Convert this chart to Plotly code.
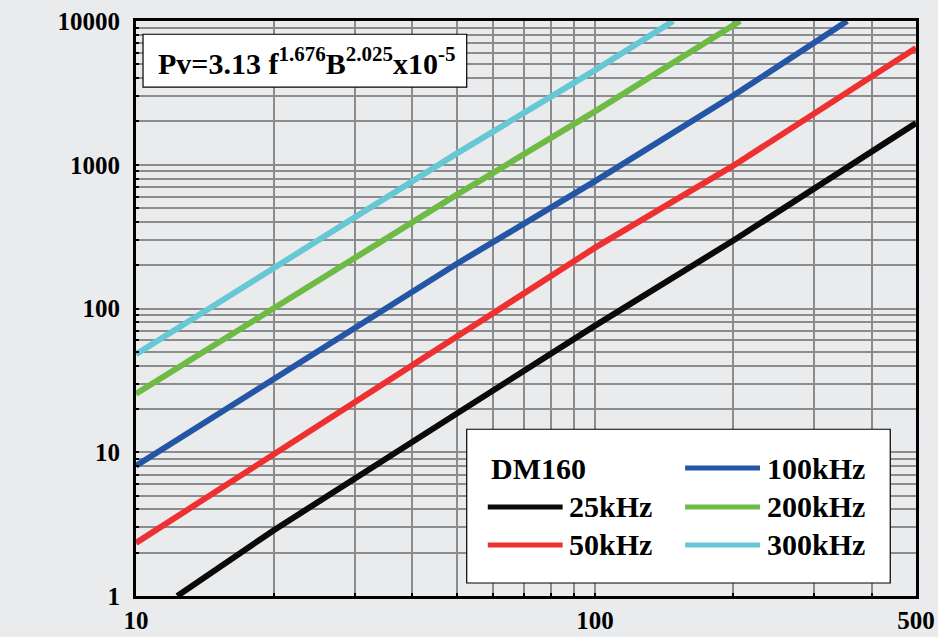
import plotly.graph_objects as go

# ---- data (B in mT on x, Pv on y) ----
series_names = ["25kHz", "50kHz", "100kHz", "200kHz", "300kHz"]
series_colors = ["#0a0a0a", "#ef3030", "#2456a5", "#6dbb44", "#66c8d5"]

b_25 = [12.3, 20, 50, 100, 200, 300, 500]
pv_25 = [1.0, 2.88, 18.6, 76, 297, 689, 1950]

b_50 = [10, 20, 50, 100, 200, 300, 500]
pv_50 = [2.34, 9.8, 65, 265, 985, 2280, 6490]

b_100 = [10, 20, 50, 100, 200, 300, 354]
pv_100 = [8.05, 32.5, 205, 770, 3030, 7050, 10000]

b_200 = [10, 20, 50, 100, 207]
pv_200 = [25.5, 100, 620, 2350, 10000]

b_300 = [10, 20, 50, 100, 148]
pv_300 = [48, 192, 1200, 4550, 10000]

x_major = [10, 100, 500]
x_major_text = ["10", "100", "500"]
x_minor = [20, 30, 40, 50, 60, 70, 80, 90, 200, 300, 400]
y_major = [1, 10, 100, 1000, 10000]
y_major_text = ["1", "10", "100", "1000", "10000"]
y_minor = [m * 10 ** e for e in range(0, 4) for m in range(2, 10)]

legend_title = "DM160"
formula_text = "Pv=3.13 f<sup>1.676</sup>B<sup>2.025</sup>x10<sup>-5</sup>"

# ---- figure ----
BG = "#eaebed"
GRID = "#8c8c8c"
FONT = "Liberation Serif"

xs = [b_25, b_50, b_100, b_200, b_300]
ys = [pv_25, pv_50, pv_100, pv_200, pv_300]

fig = go.Figure()
for name, color, x, y in zip(series_names, series_colors, xs, ys):
    fig.add_trace(go.Scatter(x=x, y=y, mode="lines", name=name,
                             line=dict(color=color, width=6),
                             showlegend=False))

axis_common = dict(
    type="log",
    automargin=False,
    showgrid=True, gridcolor=GRID, gridwidth=1.5,
    showline=True, linecolor="black", linewidth=3, mirror=True,
    ticks="inside", ticklen=3, tickwidth=2, tickcolor="black",
    zeroline=False,
    tickfont=dict(family=FONT, size=25, color="black", weight="bold"),
)

fig.update_xaxes(
    **axis_common,
    range=[1, 2.69897],
    tickmode="array", tickvals=x_major, ticktext=x_major_text,
    ticklabelstandoff=0,
    minor=dict(tickmode="array", tickvals=x_minor, showgrid=True,
               gridcolor=GRID, gridwidth=1.5,
               ticks="inside", ticklen=3, tickwidth=2, tickcolor="black"),
)
fig.update_yaxes(
    **axis_common,
    range=[0, 4],
    tickmode="array", tickvals=y_major, ticktext=y_major_text,
    ticklabelstandoff=8,
    minor=dict(tickmode="array", tickvals=y_minor, showgrid=True,
               gridcolor=GRID, gridwidth=1.5,
               ticks="inside", ticklen=3, tickwidth=2, tickcolor="black"),
)

shapes = []
annotations = []

# formula box
shapes.append(dict(type="rect", xref="paper", yref="paper",
                   x0=0.009, x1=0.424, y0=0.885, y1=0.977,
                   fillcolor="white", line=dict(color="black", width=1.2), layer="above"))
annotations.append(dict(xref="paper", yref="paper", x=0.218, y=0.93,
                        xanchor="center", yanchor="middle", showarrow=False,
                        text=formula_text,
                        font=dict(family=FONT, size=30, color="black", weight="bold")))

# legend box
shapes.append(dict(type="rect", xref="paper", yref="paper",
                   x0=0.424, x1=0.967, y0=0.0226, y1=0.290,
                   fillcolor="white", line=dict(color="black", width=1.2), layer="above"))
annotations.append(dict(xref="paper", yref="paper", x=0.452, y=0.2226,
                        xanchor="left", yanchor="middle", showarrow=False,
                        text=legend_title,
                        font=dict(family=FONT, size=30, color="black", weight="bold")))

leg_slots = [  # (line x0, line x1, y) in paper units
    (0.451, 0.547, 0.155),
    (0.451, 0.547, 0.0887),
    (0.704, 0.800, 0.2226),
    (0.704, 0.800, 0.155),
    (0.704, 0.800, 0.0887),
]
for (lx0, lx1, ly), name, color in zip(leg_slots, series_names, series_colors):
    shapes.append(dict(type="line", xref="paper", yref="paper",
                       x0=lx0, x1=lx1, y0=ly, y1=ly,
                       line=dict(color=color, width=5), layer="above"))
    annotations.append(dict(xref="paper", yref="paper", x=lx1 + 0.006, y=ly,
                            xanchor="left", yanchor="middle", showarrow=False,
                            text=name,
                            font=dict(family=FONT, size=30, color="black", weight="bold")))

fig.update_layout(
    width=938, height=637,
    margin=dict(l=136, r=22, t=21, b=41, autoexpand=False),
    paper_bgcolor=BG, plot_bgcolor=BG,
    shapes=shapes, annotations=annotations,
    showlegend=False,
)

fig.write_html(
    "out.html",
    config={"displayModeBar": False},
    post_script=(
        "document.body.style.margin='0';"
        "document.body.style.padding='0';"
        "document.body.style.background='" + BG + "';"
        "document.documentElement.style.overflow='hidden';"
    ),
)
